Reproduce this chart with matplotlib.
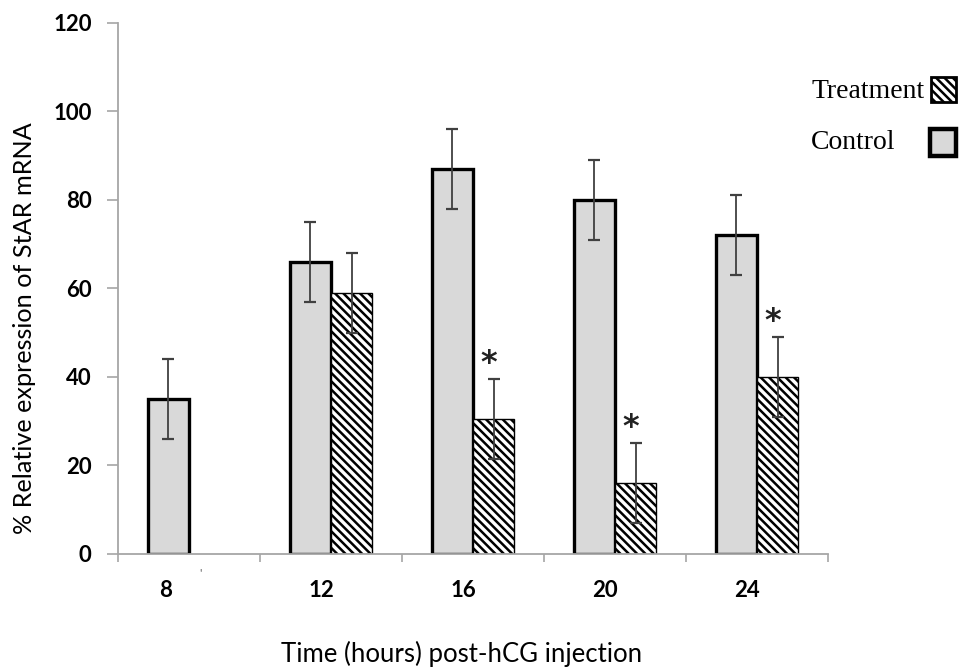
import matplotlib.pyplot as plt
import matplotlib.patches as mpatches
import numpy as np

plt.rcParams['font.family'] = ['Lato', 'DejaVu Sans']
plt.rcParams['hatch.linewidth'] = 1.8

# data
hours = ['8', '12', '16', '20', '24']
control = [35, 66, 87, 80, 72]
control_err = [9, 9, 9, 9, 9]
treatment = [np.nan, 59, 30.5, 16, 40]
treatment_err = [np.nan, 9, 9, 9, 9]
significant = [False, False, True, True, True]

ind = np.arange(len(hours))
width = 0.29
axis_grey = '#a6a6a6'
err_grey = '#404040'

fig = plt.figure(figsize=(9.76, 6.69), dpi=100)
ax = fig.add_axes([118 / 976, 1 - 554 / 669, 710 / 976, 531.5 / 669])

ctrl = np.array(control, dtype=float)
trt = np.array(treatment, dtype=float)
has_trt = ~np.isnan(trt)

# control bars (left of the group centre)
xc = ind - width / 2
ax.bar(xc, ctrl, width, color='#d9d9d9', edgecolor='black', linewidth=2.4, zorder=2)
ax.errorbar(xc, ctrl, yerr=control_err, fmt='none', ecolor=err_grey,
            elinewidth=1.3, capsize=4, capthick=1.6, zorder=3)

# treatment bars (right of the group centre, hatched)
xt = ind[has_trt] + width / 2
ax.bar(xt, trt[has_trt], width, color='white', edgecolor='black', hatch='\\\\\\\\',
       linewidth=1.0, zorder=2)
terr = np.array(treatment_err, dtype=float)[has_trt]
ax.errorbar(xt, trt[has_trt], yerr=terr, fmt='none', ecolor=err_grey,
            elinewidth=1.3, capsize=4, capthick=1.6, zorder=3)

# significance asterisks
for i in ind:
    if significant[i]:
        ax.text(i + width / 2 - 0.035, trt[i] + treatment_err[i] + 3.6, '*',
                ha='center', va='center', fontsize=23, fontweight='bold',
                family='DejaVu Sans', color='#222222')

ax.set_xlim(-0.5, len(hours) - 0.5)
ax.set_ylim(0, 120)
ax.set_yticks(np.arange(0, 121, 20))

# category boundaries as major ticks, labels as minor ticks
ax.set_xticks(np.arange(-0.5, len(hours), 1.0))
ax.set_xticklabels([])
label_pos = np.where(has_trt, ind - 0.07, ind - width / 2 - 0.02)
ax.set_xticks(label_pos, minor=True)
ax.set_xticklabels(hours, minor=True, fontsize=16, fontweight='bold')
ax.tick_params(axis='x', which='major', length=6, width=1.2, color=axis_grey)
ax.tick_params(axis='x', which='minor', length=0, pad=19)
ax.tick_params(axis='y', length=8, width=1.2, color=axis_grey, pad=11,
               labelsize=16)
for lab in ax.get_yticklabels():
    lab.set_fontweight('bold')

for s in ['top', 'right']:
    ax.spines[s].set_visible(False)
for s in ['left', 'bottom']:
    ax.spines[s].set_color(axis_grey)
    ax.spines[s].set_linewidth(1.3)

ax.set_xlabel('Time (hours) post-hCG injection', fontsize=18.5)
ax.xaxis.set_label_coords(0.4845, -0.164)
ax.set_ylabel('% Relative expression of StAR mRNA', fontsize=18.2)
ax.yaxis.set_label_coords(-0.116, 0.425)

# stray mark next to the "8" label
fig.text(200 / 976, 1 - 573 / 669, "'", fontsize=8, color='#555555',
         ha='center', va='center')

# legend drawn by hand: text left, swatch right
serif = 'Liberation Serif'
fig.text(811 / 976, 1 - 98 / 669, 'Treatment', fontsize=20, family=serif,
         ha='left', va='baseline')
fig.text(811 / 976, 1 - 149 / 669, 'Control', fontsize=20, family=serif,
         ha='left', va='baseline')
fig.patches.append(mpatches.Rectangle((931 / 976, 1 - 102 / 669), 25 / 976, 25 / 669,
                                      transform=fig.transFigure, facecolor='white',
                                      edgecolor='black', hatch='\\\\\\\\', linewidth=2.0))
fig.patches.append(mpatches.Rectangle((930 / 976, 1 - 156 / 669), 26 / 976, 27 / 669,
                                      transform=fig.transFigure, facecolor='#d9d9d9',
                                      edgecolor='black', linewidth=3.2))

fig.savefig('out.png', dpi=100)
